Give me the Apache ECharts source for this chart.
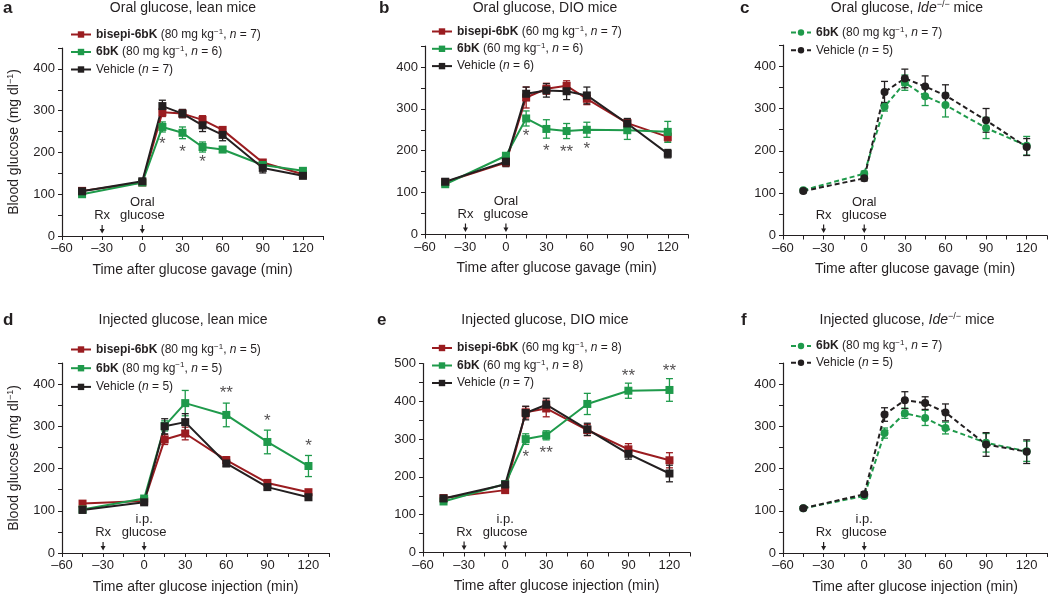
<!DOCTYPE html>
<html>
<head>
<meta charset="utf-8">
<script src="https://cdn.jsdelivr.net/npm/echarts@6/dist/echarts.min.js"></script>
<style>html,body{margin:0;padding:0;background:#fff}#c{width:1050px;height:596px}</style>
</head>
<body>
<div id="c"></div>
<script>
// ---------- DATA ----------
const xOral = [-45, 0, 15, 30, 45, 60, 90, 120];
const xInj = [-45, 0, 15, 30, 60, 90, 120];

const aBisepi = [108, 128, 296, 293, 278, 254, 176, 148];
const aBisepiErr = [5, 4, 10, 8, 10, 7, 6, 5];
const a6bK = [100, 128, 261, 247, 213, 207, 170, 156];
const a6bKErr = [4, 4, 12, 14, 12, 7, 5, 5];
const aVeh = [107, 131, 311, 293, 265, 242, 163, 144];
const aVehErr = [5, 4, 14, 10, 15, 14, 12, 5];
const aStarX = [15, 30, 45];
const aStarY = [230, 210, 186];
const aStarT = ['*', '*', '*'];

const bBisepi = [125, 172, 327, 348, 355, 324, 266, 233];
const bBisepiErr = [6, 8, 25, 13, 12, 14, 10, 10];
const b6bK = [120, 188, 277, 252, 247, 250, 249, 245];
const b6bKErr = [5, 6, 18, 22, 18, 18, 22, 25];
const bVeh = [126, 174, 336, 344, 342, 332, 265, 193];
const bVehErr = [6, 12, 16, 16, 20, 20, 12, 10];
const bStarX = [15, 30, 45, 60];
const bStarY = [243, 209, 205, 213];
const bStarT = ['*', '*', '**', '*'];

const c6bK = [107, 146, 304, 361, 329, 308, 254, 212];
const c6bKErr = [4, 6, 10, 18, 22, 28, 25, 22];
const cVeh = [105, 135, 339, 371, 352, 331, 272, 209];
const cVehErr = [4, 6, 25, 22, 25, 25, 28, 20];

const dBisepi = [117, 123, 269, 283, 220, 166, 144];
const dBisepiErr = [4, 4, 12, 15, 8, 5, 5];
const d6bK = [103, 129, 301, 355, 327, 263, 206];
const d6bKErr = [4, 4, 12, 30, 28, 28, 25];
const dVeh = [102, 120, 300, 310, 212, 156, 132];
const dVehErr = [4, 4, 18, 20, 7, 5, 5];
const dStarX = [60, 90, 120];
const dStarY = [388, 321, 261];
const dStarT = ['**', '*', '*'];

const eBisepi = [144, 165, 371, 381, 324, 273, 244];
const eBisepiErr = [6, 5, 15, 22, 15, 15, 20];
const e6bK = [135, 181, 300, 310, 393, 428, 430];
const e6bKErr = [5, 5, 14, 12, 28, 20, 30];
const eVeh = [143, 180, 369, 391, 326, 261, 209];
const eVehErr = [6, 5, 18, 17, 16, 14, 22];
const eStarX = [15, 30, 90, 120];
const eStarY = [263, 273, 476, 491];
const eStarT = ['*', '**', '**', '**'];

const f6bK = [106, 135, 284, 331, 320, 296, 261, 241];
const f6bKErr = [4, 5, 12, 12, 18, 14, 22, 24];
const fVeh = [106, 139, 328, 362, 355, 333, 257, 240];
const fVehErr = [4, 6, 16, 20, 15, 20, 28, 28];

const annotX = [-30, 0];
const annotOral = ['Rx', 'Oral\nglucose'];
const annotInj = ['Rx', 'i.p.\nglucose'];

const xTickLabels = [-60, -30, 0, 30, 60, 90, 120];

const LEG = {
  a1: '{b|bisepi-6bK} (80 mg kg{s|\u22121}, {i|n} = 7)',
  a2: '{b|6bK} (80 mg kg{s|\u22121}, {i|n} = 6)',
  a3: 'Vehicle ({i|n} = 7)',
  b1: '{b|bisepi-6bK} (60 mg kg{s|\u22121}, {i|n} = 7)',
  b2: '{b|6bK} (60 mg kg{s|\u22121}, {i|n} = 6)',
  b3: 'Vehicle ({i|n} = 6)',
  c1: '{b|6bK} (80 mg kg{s|\u22121}, {i|n} = 7)',
  c2: 'Vehicle ({i|n} = 5)',
  d1: '{b|bisepi-6bK} (80 mg kg{s|\u22121}, {i|n} = 5)',
  d2: '{b|6bK} (80 mg kg{s|\u22121}, {i|n} = 5)',
  d3: 'Vehicle ({i|n} = 5)',
  e1: '{b|bisepi-6bK} (60 mg kg{s|\u22121}, {i|n} = 8)',
  e2: '{b|6bK} (60 mg kg{s|\u22121}, {i|n} = 8)',
  e3: 'Vehicle ({i|n} = 7)',
  f1: '{b|6bK} (80 mg kg{s|\u22121}, {i|n} = 7)',
  f2: 'Vehicle ({i|n} = 5)'
};

// ---------- STYLE / LAYOUT ----------
const FONT = '"Liberation Sans", Arial, Helvetica, sans-serif';
const RED = '#9a1c20';
const GREEN = '#1f9a4b';
const BLK = '#231f20';
const TXT = '#231f20';

const panels = [
  { grid: {left: 62, top: 48, width: 261, height: 188}, yMax: 450, xs: xOral,
    ser: [['a1', aBisepi, aBisepiErr, RED, false], ['a2', a6bK, a6bKErr, GREEN, false], ['a3', aVeh, aVehErr, BLK, false]],
    stars: [aStarX, aStarY, aStarT], annot: annotOral, xName: 'Time after glucose gavage (min)', yName: true,
    legend: {left: 70, top: 27.5, gap: 3.5}, title: {x: 183, y: 8, text: 'Oral glucose, lean mice'}, letter: {x: 3, y: 8, t: 'a'} },
  { grid: {left: 425, top: 46, width: 263, height: 188.5}, yMax: 450, xs: xOral,
    ser: [['b1', bBisepi, bBisepiErr, RED, false], ['b2', b6bK, b6bKErr, GREEN, false], ['b3', bVeh, bVehErr, BLK, false]],
    stars: [bStarX, bStarY, bStarT], annot: annotOral, xName: 'Time after glucose gavage (min)', yName: false,
    legend: {left: 431, top: 24.5, gap: 3.3}, title: {x: 545, y: 8, text: 'Oral glucose, DIO mice'}, letter: {x: 379, y: 8, t: 'b'} },
  { grid: {left: 783, top: 45, width: 266.5, height: 190.5}, yMax: 450, xs: xOral,
    ser: [['c1', c6bK, c6bKErr, GREEN, true], ['c2', cVeh, cVehErr, BLK, true]],
    stars: null, annot: annotOral, xName: 'Time after glucose gavage (min)', yName: false,
    legend: {left: 790, top: 25.5, gap: 3.7}, title: {x: 907, y: 8, text: 'Oral glucose, {i|Ide}{s|\u2212/\u2212} mice'}, letter: {x: 740, y: 8, t: 'c'} },
  { grid: {left: 62, top: 363, width: 267, height: 190}, yMax: 450, xs: xInj,
    ser: [['d1', dBisepi, dBisepiErr, RED, false], ['d2', d6bK, d6bKErr, GREEN, false], ['d3', dVeh, dVehErr, BLK, false]],
    stars: [dStarX, dStarY, dStarT], annot: annotInj, xName: 'Time after glucose injection (min)', yName: true,
    legend: {left: 70, top: 342.5, gap: 4.7}, title: {x: 183, y: 320, text: 'Injected glucose, lean mice'}, letter: {x: 3, y: 320, t: 'd'} },
  { grid: {left: 423, top: 363.5, width: 267, height: 189}, yMax: 500, xs: xInj,
    ser: [['e1', eBisepi, eBisepiErr, RED, false], ['e2', e6bK, e6bKErr, GREEN, false], ['e3', eVeh, eVehErr, BLK, false]],
    stars: [eStarX, eStarY, eStarT], annot: annotInj, xName: 'Time after glucose injection (min)', yName: false,
    legend: {left: 431, top: 341, gap: 3.5}, title: {x: 545, y: 320, text: 'Injected glucose, DIO mice'}, letter: {x: 377, y: 320, t: 'e'} },
  { grid: {left: 783, top: 363, width: 266.5, height: 190}, yMax: 450, xs: xOral,
    ser: [['f1', f6bK, f6bKErr, GREEN, true], ['f2', fVeh, fVehErr, BLK, true]],
    stars: null, annot: annotInj, xName: 'Time after glucose injection (min)', yName: false,
    legend: {left: 790, top: 339, gap: 2.7}, title: {x: 907, y: 320, text: 'Injected glucose, {i|Ide}{s|\u2212/\u2212} mice'}, letter: {x: 741, y: 320, t: 'f'} }
];

const richLeg = {
  b: {fontWeight: 'bold', fontSize: 12, fontFamily: FONT, color: TXT, lineHeight: 14},
  i: {fontStyle: 'italic', fontSize: 12, fontFamily: FONT, color: TXT, lineHeight: 14},
  s: {fontSize: 8, fontFamily: FONT, color: TXT, verticalAlign: 'top', lineHeight: 8}
};

const grids = [], xAxes = [], yAxes = [], series = [], legends = [], graphics = [];

panels.forEach((P, k) => {
  grids.push(Object.assign({containLabel: false}, P.grid));
  xAxes.push({
    type: 'value', gridIndex: k, min: -60, max: 135, interval: 15,
    name: P.xName, nameLocation: 'middle', nameGap: 27,
    nameTextStyle: {fontSize: 14, fontFamily: FONT, color: TXT},
    axisLine: {show: true, onZero: false, lineStyle: {color: BLK, width: 1.2}},
    axisTick: {show: true, inside: false, length: 4, lineStyle: {color: BLK, width: 1}},
    splitLine: {show: false},
    axisLabel: {show: true, margin: 6, fontSize: 13, fontFamily: FONT, color: TXT,
      formatter: v => xTickLabels.indexOf(v) >= 0 ? (v < 0 ? '\u2013' + (-v) : String(v)) : ''}
  });
  yAxes.push({
    type: 'value', gridIndex: k, min: 0, max: P.yMax, interval: 50,
    name: P.yName ? 'Blood glucose (mg dl{s|\u22121})' : '', nameLocation: 'middle', nameGap: 40, nameRotate: 90,
    nameTextStyle: {fontSize: 14, fontFamily: FONT, color: TXT, lineHeight: 16,
      rich: {s: {fontSize: 9, fontFamily: FONT, color: TXT, verticalAlign: 'top', lineHeight: 9}}},
    axisLine: {show: true, onZero: false, lineStyle: {color: BLK, width: 1.2}},
    axisTick: {show: true, inside: false, length: 4, lineStyle: {color: BLK, width: 1}},
    splitLine: {show: false},
    axisLabel: {show: true, margin: 7, fontSize: 13, fontFamily: FONT, color: TXT,
      formatter: v => v % 100 === 0 ? String(v) : ''}
  });

  const names = [];
  P.ser.forEach(([key, vals, errs, color, dashed]) => {
    names.push(key);
    series.push({
      type: 'custom', xAxisIndex: k, yAxisIndex: k, z: 2, clip: false, silent: true,
      data: P.xs.map((x, i) => [x, vals[i] - errs[i], vals[i] + errs[i]]),
      encode: {x: 0, y: [1, 2]},
      renderItem: (params, api) => {
        const lo = api.coord([api.value(0), api.value(1)]);
        const hi = api.coord([api.value(0), api.value(2)]);
        const w = 3.5;
        const st = {stroke: color, lineWidth: 1.3};
        return {type: 'group', children: [
          {type: 'line', shape: {x1: lo[0], y1: lo[1], x2: hi[0], y2: hi[1]}, style: st},
          {type: 'line', shape: {x1: lo[0] - w, y1: lo[1], x2: lo[0] + w, y2: lo[1]}, style: st},
          {type: 'line', shape: {x1: hi[0] - w, y1: hi[1], x2: hi[0] + w, y2: hi[1]}, style: st}
        ]};
      }
    });
    series.push({
      type: 'line', name: key, xAxisIndex: k, yAxisIndex: k, z: 3,
      data: P.xs.map((x, i) => [x, vals[i]]),
      symbol: dashed ? 'circle' : 'rect', symbolSize: 8, showSymbol: true,
      lineStyle: {color: color, width: 2, type: dashed ? [5, 3] : 'solid'},
      itemStyle: {color: color},
      emphasis: {disabled: true}
    });
  });

  if (P.stars) {
    const [sx, sy, st] = P.stars;
    series.push({
      type: 'scatter', xAxisIndex: k, yAxisIndex: k, z: 4, silent: true,
      data: sx.map((x, i) => [x, sy[i]]),
      symbolSize: 2, itemStyle: {color: 'rgba(0,0,0,0)'},
      label: {show: true, position: 'inside', offset: [0, 4], formatter: p => st[p.dataIndex],
        fontSize: 17, fontFamily: FONT, color: TXT}
    });
  }

  const labels = P.annot;
  series.push({
    type: 'custom', xAxisIndex: k, yAxisIndex: k, z: 5, clip: false, silent: true,
    data: annotX.map(x => [x, 0]), encode: {x: 0, y: 1},
    renderItem: (params, api) => {
      const p = api.coord([api.value(0), 0]);
      return {type: 'group', children: [
        {type: 'text', style: {text: labels[params.dataIndex], x: p[0], y: p[1] - 14, align: 'center',
          verticalAlign: 'bottom', fontSize: 13, fontFamily: FONT, fill: TXT, lineHeight: 13}},
        {type: 'line', shape: {x1: p[0], y1: p[1] - 11, x2: p[0], y2: p[1] - 5}, style: {stroke: TXT, lineWidth: 1.2}},
        {type: 'polygon', shape: {points: [[p[0] - 2.5, p[1] - 7], [p[0] + 2.5, p[1] - 7], [p[0], p[1] - 2.5]]}, style: {fill: TXT}}
      ]};
    }
  });

  legends.push({
    data: names, orient: 'vertical', left: P.legend.left, top: P.legend.top, itemGap: P.legend.gap,
    itemWidth: 20, itemHeight: 8, selectedMode: false, padding: 0,
    formatter: n => LEG[n],
    textStyle: {fontSize: 12, fontFamily: FONT, color: TXT, lineHeight: 14, rich: richLeg}
  });

  graphics.push({
    type: 'text', x: P.title.x, y: P.title.y,
    style: {text: P.title.text, align: 'center', verticalAlign: 'middle', fontSize: 14, fontFamily: FONT, fill: TXT, lineHeight: 16,
      rich: {i: {fontStyle: 'italic', fontSize: 14, fontFamily: FONT, fill: TXT, lineHeight: 16},
             s: {fontSize: 9, fontFamily: FONT, fill: TXT, verticalAlign: 'top', lineHeight: 9}}}
  });
  graphics.push({
    type: 'text', x: P.letter.x, y: P.letter.y,
    style: {text: P.letter.t, align: 'left', verticalAlign: 'middle', fontSize: 17, fontWeight: 'bold', fontFamily: FONT, fill: TXT}
  });
});

const chart = echarts.init(document.getElementById('c'), null, {renderer: 'canvas'});
chart.setOption({
  animation: false,
  backgroundColor: '#fff',
  grid: grids, xAxis: xAxes, yAxis: yAxes, series: series, legend: legends, graphic: graphics
});
</script>
</body>
</html>
